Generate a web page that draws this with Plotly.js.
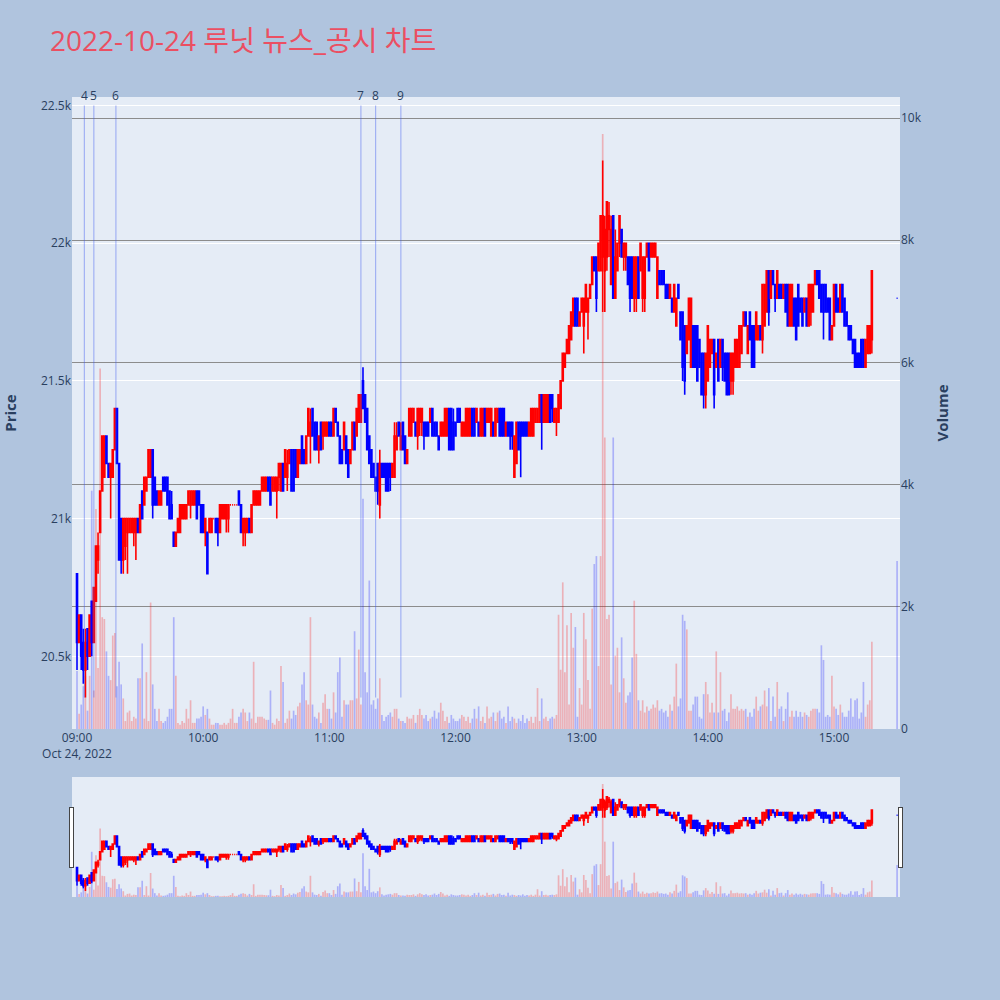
<!DOCTYPE html>
<html><head><meta charset="utf-8">
<script src="https://cdn.plot.ly/plotly-3.0.1.min.js"></script>
<style>body{margin:0;background:#B0C4DE}</style>
</head><body><div id="chart" style="width:1000px;height:1000px"></div>
<script>
// 1-minute candles 09:00 .. 15:18, plus the 15:30 closing auction
const openP = [
20800,20550,20650,20550,20450,20600,20500,20700,20550,20700,
20850,20950,21100,21150,21300,21200,21150,21150,21250,21400,
21200,21000,20850,20900,20950,20950,20950,20950,20950,21000,
20950,21100,21050,21100,21150,21150,21250,21150,21100,21050,
21050,21150,21150,21150,21100,21050,20950,20900,20950,20950,
21000,21000,21000,21050,21050,21050,21050,21100,21100,21050,
21050,20950,20950,20950,20950,21000,21000,21000,20950,21000,
21000,21000,21000,21050,21050,21050,21050,21100,21050,20950,
20950,20950,21000,20950,21050,21050,21050,21050,21100,21100,
21100,21150,21150,21100,21100,21100,21150,21100,21200,21150,
21150,21200,21250,21250,21250,21150,21200,21300,21250,21200,
21300,21300,21400,21350,21350,21250,21350,21300,21300,21300,
21350,21350,21300,21400,21350,21300,21250,21250,21300,21250,
21200,21250,21350,21300,21350,21350,21500,21450,21400,21300,
21250,21200,21150,21200,21050,21200,21200,21200,21200,21200,
21150,21150,21250,21350,21250,21350,21300,21200,21300,21300,
21350,21350,21300,21350,21350,21350,21350,21350,21350,21400,
21350,21350,21300,21300,21300,21300,21300,21400,21400,21350,
21350,21400,21400,21300,21300,21300,21300,21300,21400,21400,
21350,21350,21300,21300,21400,21350,21350,21300,21350,21300,
21350,21400,21400,21400,21300,21350,21350,21350,21150,21200,
21350,21350,21350,21350,21350,21300,21300,21300,21350,21350,
21350,21450,21350,21350,21350,21450,21450,21350,21350,21350,
21400,21500,21550,21600,21600,21650,21700,21800,21800,21700,
21750,21700,21750,21750,21800,21850,21950,21950,21900,21900,
21950,21900,21950,22050,21850,22100,21800,21900,22000,22050,
21950,21950,21950,21950,21950,21800,21800,21950,21900,21800,
21800,21950,22000,21950,21950,21950,21800,21900,21900,21900,
21850,21850,21800,21800,21750,21700,21850,21750,21750,21700,
21600,21650,21550,21700,21700,21700,21650,21600,21600,21450,
21500,21550,21600,21650,21550,21650,21550,21650,21600,21600,
21600,21500,21500,21550,21550,21550,21600,21700,21750,21600,
21750,21700,21700,21650,21650,21700,21650,21700,21750,21900,
21800,21900,21850,21800,21850,21850,21800,21850,21850,21700,
21700,21800,21800,21850,21800,21800,21750,21800,21700,21750,
21750,21850,21900,21900,21850,21850,21850,21800,21800,21650,
21700,21850,21800,21750,21850,21800,21750,21700,21700,21650,
21650,21600,21600,21650,21650,21550,21600,21600,21650,
21800];
const highP = [
20800,20650,20650,20600,20600,20600,20650,20700,20750,20900,
20950,21100,21300,21300,21300,21200,21200,21250,21400,21400,
21200,21000,21000,21000,21000,21000,21000,21000,21000,21000,
21050,21100,21150,21150,21250,21250,21250,21150,21100,21100,
21100,21150,21150,21150,21100,21100,20950,20950,21000,21050,
21050,21050,21050,21100,21100,21100,21100,21100,21100,21050,
21050,21000,20950,21000,21000,21000,21000,21000,21050,21050,
21050,21050,21050,21050,21050,21050,21050,21100,21050,21000,
21000,21000,21000,21050,21100,21100,21100,21100,21150,21150,
21150,21150,21150,21150,21150,21150,21200,21200,21200,21250,
21250,21250,21250,21250,21250,21250,21250,21300,21250,21300,
21400,21400,21400,21350,21350,21300,21350,21350,21350,21350,
21350,21350,21400,21400,21350,21300,21250,21350,21300,21250,
21250,21350,21350,21400,21450,21450,21550,21450,21400,21300,
21250,21200,21150,21200,21250,21200,21200,21200,21200,21200,
21200,21350,21350,21350,21350,21350,21300,21250,21400,21400,
21400,21350,21400,21400,21400,21350,21350,21350,21400,21400,
21350,21350,21300,21350,21350,21400,21400,21400,21400,21400,
21350,21400,21400,21350,21350,21400,21400,21400,21400,21400,
21400,21350,21400,21400,21400,21400,21400,21400,21350,21400,
21400,21400,21400,21400,21350,21350,21350,21350,21300,21350,
21350,21350,21350,21350,21350,21350,21400,21400,21400,21400,
21450,21450,21450,21450,21450,21450,21450,21400,21400,21450,
21500,21600,21600,21650,21700,21750,21800,21800,21800,21750,
21800,21800,21850,21800,21850,21950,21950,21950,22000,22100,
22300,22100,22150,22150,22100,22100,22050,22000,22100,22050,
22000,22000,21950,21950,21950,21950,21950,21950,22000,21950,
21950,22000,22000,22000,22000,22000,21950,21900,21900,21900,
21850,21850,21850,21800,21850,21800,21850,21750,21750,21700,
21700,21800,21800,21700,21700,21700,21650,21600,21600,21600,
21700,21650,21650,21650,21600,21650,21650,21650,21600,21600,
21600,21600,21600,21650,21650,21700,21700,21750,21750,21700,
21750,21700,21700,21750,21700,21700,21850,21850,21900,21900,
21900,21900,21850,21900,21850,21850,21850,21850,21850,21850,
21850,21800,21800,21850,21800,21800,21800,21800,21850,21850,
21850,21900,21900,21900,21850,21850,21850,21800,21800,21700,
21850,21850,21800,21850,21850,21800,21750,21700,21700,21650,
21650,21600,21600,21650,21650,21650,21700,21700,21900,
21800];
const lowP = [
20450,20550,20450,20400,20350,20450,20500,20500,20550,20700,
20800,20950,21100,21150,21200,21150,21000,21150,21250,21200,
20850,20800,20800,20850,20800,20950,20950,20900,20850,20950,
20950,21000,21050,21100,21150,21150,21000,21050,21050,21050,
21050,21100,21100,21050,21000,21000,20900,20900,20950,20950,
21000,21000,21000,21050,21000,21050,21050,21000,21050,20950,
20950,20900,20800,20950,20950,21000,20950,20900,20950,21000,
21000,20950,20950,21050,21050,21050,21050,21050,20950,20900,
20900,20950,20950,20950,21050,21050,21050,21050,21100,21100,
21100,21100,21050,21100,21100,21000,21100,21100,21100,21150,
21100,21200,21100,21100,21150,21150,21200,21200,21200,21200,
21300,21200,21300,21250,21250,21200,21250,21250,21300,21300,
21300,21300,21300,21350,21300,21200,21200,21250,21200,21150,
21200,21250,21250,21300,21350,21350,21400,21350,21250,21200,
21150,21150,21100,21050,21000,21150,21150,21100,21100,21100,
21150,21150,21250,21300,21250,21250,21200,21200,21300,21300,
21350,21300,21250,21300,21300,21250,21300,21300,21350,21300,
21300,21300,21250,21300,21300,21300,21300,21250,21250,21250,
21300,21350,21350,21300,21300,21300,21300,21300,21300,21300,
21350,21300,21300,21300,21300,21350,21350,21300,21300,21300,
21350,21300,21300,21300,21300,21300,21250,21250,21150,21200,
21250,21150,21300,21300,21300,21300,21300,21300,21350,21350,
21350,21250,21350,21350,21350,21350,21350,21350,21300,21350,
21400,21500,21550,21600,21600,21650,21700,21700,21700,21700,
21750,21600,21750,21650,21800,21850,21900,21750,21900,21900,
21750,21750,21900,21950,21850,21800,21800,21900,21950,21950,
21900,21900,21850,21750,21800,21750,21750,21800,21900,21750,
21750,21950,21900,21950,21950,21950,21800,21850,21850,21850,
21800,21800,21800,21750,21750,21700,21800,21650,21500,21450,
21600,21650,21550,21550,21550,21500,21550,21450,21400,21400,
21500,21550,21600,21400,21550,21500,21550,21500,21500,21450,
21450,21450,21450,21550,21550,21550,21600,21700,21700,21600,
21650,21550,21550,21650,21650,21650,21600,21700,21750,21700,
21800,21850,21750,21800,21800,21800,21800,21750,21700,21700,
21700,21700,21650,21700,21750,21700,21750,21700,21700,21700,
21750,21850,21850,21800,21750,21650,21750,21750,21650,21650,
21700,21750,21750,21750,21750,21700,21700,21650,21650,21600,
21550,21550,21550,21550,21550,21550,21600,21600,21600,
21800];
const closeP = [
20550,20650,20500,20450,20550,20500,20650,20550,20750,20900,
20900,21100,21300,21300,21200,21150,21200,21250,21400,21200,
20850,20850,21000,21000,21000,21000,21000,21000,21000,20950,
21050,21000,21150,21150,21250,21250,21050,21050,21050,21100,
21100,21100,21100,21050,21000,21000,20900,20950,21000,21050,
21050,21050,21050,21100,21100,21100,21100,21000,21050,20950,
20950,21000,20800,21000,21000,21000,20950,20950,21050,21050,
21050,21050,21050,21050,21050,21050,21050,21050,20950,21000,
21000,21000,20950,21050,21100,21100,21100,21100,21150,21150,
21150,21100,21050,21150,21150,21150,21200,21200,21100,21250,
21200,21250,21100,21100,21150,21250,21250,21200,21200,21300,
21400,21350,21300,21250,21250,21300,21250,21350,21350,21350,
21300,21300,21400,21350,21300,21200,21200,21350,21200,21150,
21250,21350,21250,21400,21450,21450,21400,21350,21250,21200,
21150,21150,21100,21100,21200,21150,21150,21100,21100,21150,
21200,21300,21300,21300,21300,21250,21200,21250,21400,21400,
21400,21300,21400,21400,21400,21300,21300,21300,21400,21300,
21300,21300,21250,21350,21350,21400,21400,21250,21250,21250,
21300,21350,21350,21350,21350,21400,21400,21400,21300,21300,
21400,21300,21400,21400,21300,21400,21400,21400,21300,21400,
21400,21300,21300,21300,21350,21300,21300,21300,21300,21350,
21250,21300,21300,21300,21300,21350,21400,21400,21400,21400,
21450,21350,21450,21450,21450,21350,21400,21400,21400,21450,
21500,21600,21600,21650,21700,21750,21800,21700,21700,21750,
21800,21800,21850,21800,21850,21950,21900,21800,22000,22100,
22100,22050,22150,22100,22050,21800,21950,22000,22100,21950,
22000,22000,21850,21800,21800,21950,21950,21800,22000,21950,
21950,22000,21900,22000,22000,22000,21950,21850,21850,21850,
21800,21800,21850,21750,21850,21800,21800,21650,21550,21500,
21700,21800,21800,21550,21550,21500,21550,21450,21450,21600,
21700,21650,21650,21450,21600,21500,21650,21550,21500,21450,
21450,21600,21600,21650,21650,21700,21700,21750,21700,21700,
21650,21550,21550,21750,21700,21650,21850,21850,21900,21750,
21900,21850,21800,21900,21800,21800,21850,21750,21700,21850,
21850,21700,21650,21700,21750,21700,21800,21700,21850,21850,
21850,21900,21850,21800,21750,21750,21750,21750,21650,21700,
21850,21750,21750,21850,21750,21700,21700,21650,21650,21600,
21550,21550,21550,21550,21550,21650,21700,21700,21900,
21800];
const volume = [
950,250,400,700,870,300,870,3900,630,3600,
1000,5900,1830,1800,1270,870,800,1530,1570,700,
1100,730,500,130,270,300,130,200,170,830,
830,1400,170,930,130,2070,730,330,130,330,
130,100,130,200,330,330,1830,870,100,70,
130,100,330,170,470,100,100,170,170,200,
370,230,330,170,70,70,100,100,70,70,
100,70,100,170,330,100,100,200,270,330,
270,130,270,170,1100,100,200,200,200,170,
150,150,630,100,70,170,130,1030,770,100,
170,300,170,300,230,370,430,730,930,470,
400,1830,400,200,170,270,100,430,570,330,
330,170,600,270,930,1170,200,470,400,400,
470,470,1600,500,1300,400,3770,930,600,2430,
400,470,330,500,830,230,130,200,230,270,
200,330,330,170,130,130,100,200,170,170,
230,100,230,330,230,170,230,130,170,200,
300,170,270,430,300,130,200,100,230,170,
130,130,170,230,200,130,200,100,170,330,
170,370,130,200,100,370,170,200,270,130,
270,300,170,200,100,370,130,200,170,100,
170,130,230,100,170,130,200,100,200,670,
130,500,170,200,130,170,200,170,230,1870,
970,2400,930,1700,400,1900,1330,1670,200,670,
400,1900,1470,800,330,1970,2700,2830,1030,2830,
9740,4770,1800,1870,730,4770,1200,1330,600,1500,
830,430,550,600,1170,2100,1230,470,300,470,
270,370,300,330,400,350,470,300,330,270,
300,200,400,300,530,1070,370,500,1870,1770,
1630,300,300,400,530,530,200,170,570,770,
570,270,430,270,1270,270,930,300,330,130,
270,570,330,330,370,300,330,300,330,200,
270,200,330,530,300,370,400,630,370,670,
130,530,200,770,330,370,130,330,600,200,
300,200,300,200,280,200,270,230,200,300,
330,330,330,270,1370,1130,200,230,200,870,
370,330,230,400,270,200,200,300,500,200,
470,500,170,270,770,200,400,470,1430,
2750];

// news / disclosure markers
const newsTimes = ['2022-10-24 09:03:30','2022-10-24 09:08:00','2022-10-24 09:18:30',
                   '2022-10-24 11:15:00','2022-10-24 11:22:00','2022-10-24 11:34:00'];
const newsLabels = ['4','5','6','7','8','9'];
const closingAuctionTime = '2022-10-24 15:30:00';

function pad2(n){ return String(n).padStart(2,'0'); }
const times = openP.map((_, i) => {
  if (i === openP.length - 1) return closingAuctionTime;
  const h = 9 + Math.floor(i / 60), m = i % 60;
  return `2022-10-24 ${pad2(h)}:${pad2(m)}:00`;
});

// candle direction (same rule as plotly: ties compare with previous close)
const isUp = [];
let lastUp = true;
for (let i = 0; i < openP.length; i++) {
  let up;
  if (closeP[i] > openP[i]) up = true;
  else if (closeP[i] < openP[i]) up = false;
  else if (i > 0 && closeP[i] > closeP[i-1]) up = true;
  else if (i > 0 && closeP[i] < closeP[i-1]) up = false;
  else up = lastUp;
  isUp.push(up); lastUp = up;
}
const volColors = isUp.map(u => u ? 'rgba(255,0,0,0.25)' : 'rgba(0,0,255,0.25)');

const minLow = Math.min(...lowP);
const xRange = ['2022-10-24 08:57:37', '2022-10-24 15:31:23'];

const traces = [
  {
    type: 'candlestick', x: times, open: openP, high: highP, low: lowP, close: closeP,
    increasing: {line: {color: '#FF0000', width: 1.6}, fillcolor: '#FF0000'},
    decreasing: {line: {color: '#0000FF', width: 1.6}, fillcolor: '#0000FF'},
    yaxis: 'y', showlegend: false, name: 'Price'
  },
  {
    type: 'bar', x: times, y: volume, yaxis: 'y2',
    marker: {color: volColors}, showlegend: false, name: 'Volume'
  }
];

const shapes = newsTimes.map(t => ({
  type: 'line', xref: 'x', yref: 'y', x0: t, x1: t, y0: minLow, y1: 22500,
  line: {color: 'rgba(60,90,240,0.4)', width: 1.2}
}));
const annotations = newsTimes.map((t, i) => ({
  x: t, y: 22500, xref: 'x', yref: 'y', text: newsLabels[i], showarrow: false,
  yanchor: 'bottom', font: {size: 12, color: '#2a3f5f'}
}));

const layout = {
  width: 1000, height: 1000,
  paper_bgcolor: '#B0C4DE', plot_bgcolor: '#E5ECF6',
  font: {family: '"Open Sans", "Noto Sans CJK KR", sans-serif', color: '#2a3f5f'},
  title: {text: '2022-10-24 루닛 뉴스_공시 차트', x: 0.05, xanchor: 'left', y: 0.959, yanchor: 'middle',
          font: {size: 28, color: '#EB4F62', family: '"Open Sans", "Noto Sans CJK KR", sans-serif'}},
  margin: {l: 72, r: 100, t: 97, b: 103},
  showlegend: false,
  xaxis: {
    type: 'date', range: xRange, showgrid: false,
    rangeslider: {visible: true, range: xRange, thickness: 0.15, bgcolor: '#E5ECF6'}
  },
  yaxis: {
    title: {text: '<b>Price</b>', font: {size: 15}, standoff: 28}, range: [20236, 22531],
    gridcolor: 'white', zeroline: false
  },
  yaxis2: {
    title: {text: '<b>Volume</b>', font: {size: 15}}, overlaying: 'y', side: 'right',
    range: [0, 10344], showgrid: true, gridcolor: '#8c8c8c', zeroline: false
  },
  bargap: 0.2,
  shapes: shapes, annotations: annotations
};

Plotly.newPlot('chart', traces, layout, {displayModeBar: false});
</script>
</body></html>
